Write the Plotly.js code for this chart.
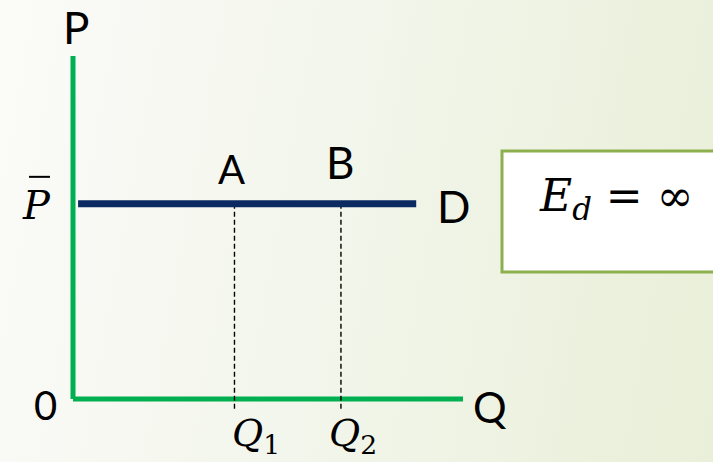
<!DOCTYPE html>
<html>
<head>
<meta charset="utf-8">
<script src="https://cdn.plot.ly/plotly-3.0.1.min.js"></script>
<style>
  html, body { margin:0; padding:0; }
  body { width:713px; height:462px; overflow:hidden;
    background: linear-gradient(100deg, #fbfbf8 0%, #f3f6ec 45%, #e9efd8 100%); }
  #chart { width:713px; height:462px; }
</style>
</head>
<body>
<div id="chart"></div>
<script>
// ---- data ----
const qAxisMax = 10;          // end of Q axis
const pAxisMax = 10;          // top of P axis
const pBar = 5.69;            // fixed price P̄
const demandQ = [0.13, 8.8];  // horizontal demand curve D extent
const q1 = 4.14;
const q2 = 6.87;
const dashBottom = -0.3;
const pointLabels = ['A', 'B'];
const qLabels = ['<i>Q</i><sub>1</sub>', '<i>Q</i><sub>2</sub>'];

const green = '#00b050';
const navy = '#0b2a62';

const traces = [
  { x: [0, 0], y: [0, pAxisMax], mode: 'lines', line: { color: green, width: 5 }, hoverinfo: 'skip' },
  { x: [0, qAxisMax], y: [0, 0], mode: 'lines', line: { color: green, width: 5 }, hoverinfo: 'skip' },
  { x: [q1, q1], y: [pBar, dashBottom], mode: 'lines', line: { color: '#000', width: 1.4, dash: '5px,3px' }, hoverinfo: 'skip' },
  { x: [q2, q2], y: [pBar, dashBottom], mode: 'lines', line: { color: '#000', width: 1.4, dash: '5px,3px' }, hoverinfo: 'skip' },
  { x: demandQ, y: [pBar, pBar], mode: 'lines', line: { color: navy, width: 7 }, hoverinfo: 'skip' }
];

const sans = 'Lato, "Open Sans", sans-serif';
const serif = '"DejaVu Serif", "Liberation Serif", serif';
const ann = (x, y, text, size, family, xs, ys) => ({
  x, y, xref: 'x', yref: 'y', text, showarrow: false,
  font: { family, size, color: '#000' }, xshift: xs, yshift: ys,
  xanchor: 'center', yanchor: 'middle'
});

const annotations = [
  ann(0, pAxisMax, 'P', 44, sans, 3, 29),
  ann(0, pBar, '<i>P</i>', 40, serif, -37, -1),
  ann(0, 0, '0', 40, sans, -28, -6),
  ann(qAxisMax, 0, 'Q', 42, sans, 27, -8),
  ann(q1, pBar, pointLabels[0], 40, sans, -3, 35),
  ann(q2, pBar, pointLabels[1], 44, sans, -1, 42),
  ann(demandQ[1], pBar, 'D', 44, sans, 37, -2),
  ann(q1, 0, qLabels[0], 38, serif, 22, -37),
  ann(q2, 0, qLabels[1], 38, serif, 12, -37),
  { x: 13.92, y: 5.69, xref: 'x', yref: 'y', yshift: 5, text: '<i>E</i><sub><i>d</i></sub> = ∞',
    showarrow: false, font: { family: serif, size: 44, color: '#000' }, xanchor: 'center', yanchor: 'middle' }
];

const layout = {
  width: 713, height: 462,
  margin: { l: 0, r: 0, t: 0, b: 0, pad: 0 },
  paper_bgcolor: 'rgba(0,0,0,0)', plot_bgcolor: 'rgba(0,0,0,0)',
  showlegend: false,
  xaxis: { range: [-1.872, 16.41], visible: false, fixedrange: true },
  yaxis: { range: [-1.837, 11.633], visible: false, fixedrange: true },
  shapes: [
    { type: 'rect', xref: 'x', yref: 'y', x0: 11.0, x1: 16.6, y0: 3.70, y1: 7.23,
      fillcolor: '#ffffff', line: { color: '#8db04e', width: 3 }, layer: 'below' },
    // overbar of P̄
    { type: 'line', xref: 'x', yref: 'y', xsizemode: 'pixel', ysizemode: 'pixel',
      xanchor: 0, yanchor: pBar, x0: -44, x1: -23, y0: 27, y1: 27,
      line: { color: '#000', width: 2 } }
  ],
  annotations
};

Plotly.newPlot('chart', traces, layout, { displayModeBar: false, staticPlot: true });
</script>
</body>
</html>
